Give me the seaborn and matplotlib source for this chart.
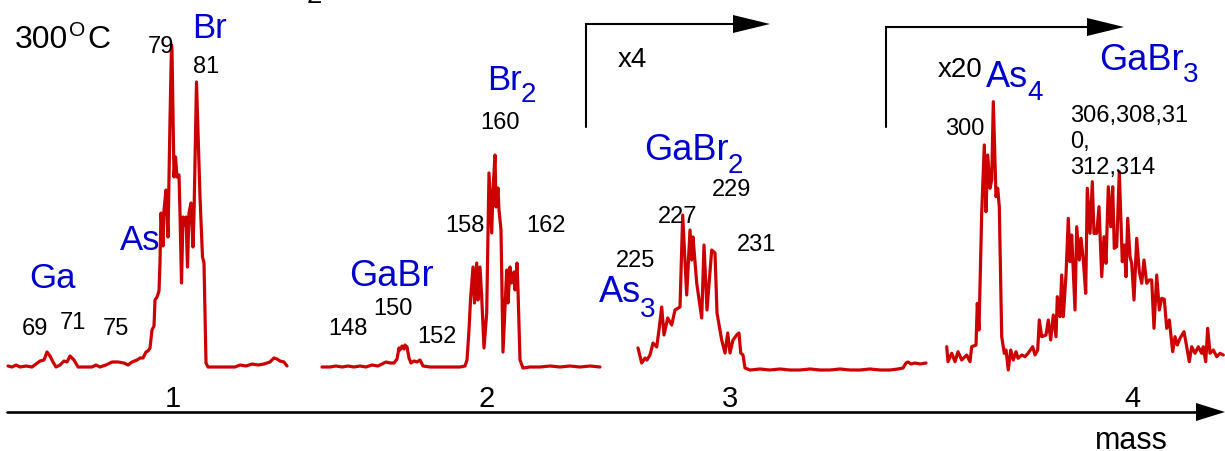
import numpy as np
import pandas as pd
import matplotlib
matplotlib.use("Agg")
import matplotlib.pyplot as plt
import seaborn as sns

# ---------------- data (trace positions along the mass axis, signal level) ----------------
seg1_x = [8, 12, 16, 20, 26, 32, 36, 40, 44, 47, 50, 53, 56, 60, 64, 67, 70, 74, 78, 84, 92, 96, 100, 106,
          112, 118, 124, 128, 132, 137, 140, 143, 146, 148, 150, 152, 154, 155, 157, 159, 160, 161, 163, 164,
          166, 168, 170, 171.5, 172, 174, 175.5, 177, 179, 180, 181.5, 183, 185, 186, 187.5, 189, 191, 193,
          194, 196.5, 200, 202.5, 204, 206, 208, 215, 225, 235, 240, 246, 252, 258, 264, 270, 274, 277, 280,
          284, 287]
seg1_y = [366, 367, 365, 367, 366, 367, 364, 361, 360, 352, 356, 362, 367, 365, 361, 362, 356, 360, 367, 367,
          367, 365, 367, 365, 362, 362, 363, 365, 362, 360, 358, 358, 352, 351, 348, 330, 326, 300, 297, 291,
          262, 213, 246, 210, 190, 237, 120, 45, 50, 177, 157, 177, 175, 213, 283, 217, 225, 217, 267, 213,
          203, 247, 215, 82, 197, 257, 263, 363, 367, 367, 367, 367, 365, 366, 364, 365, 364, 362, 358, 359,
          361, 362, 366]

seg2_x = [322, 330, 336, 342, 348, 354, 360, 366, 372, 378, 382, 386, 390, 394, 397, 399, 400, 402, 404, 405,
          407, 409, 411, 414, 417, 420, 423, 430, 440, 450, 460, 465, 467, 469, 470.5, 473, 474.5, 476.7, 478,
          480, 481.7, 484, 486.7, 489, 491.7, 493, 495, 496, 498, 499, 501, 503, 506.7, 508, 510, 511.7, 514,
          515, 517, 518, 520, 523, 530, 540, 550, 560, 570, 580, 590, 600]
seg2_y = [367, 367, 366, 367, 366, 367, 366, 367, 365, 366, 364, 362, 363, 363, 359, 348, 350, 346, 349, 345,
          347, 358, 363, 361, 362, 360, 366, 367, 367, 367, 367, 366, 360, 330, 300, 267, 303, 263, 300, 267,
          297, 348, 313, 173, 233, 190, 155, 207, 188, 210, 230, 352, 270, 303, 267, 283, 272, 290, 263, 290,
          360, 368, 367, 367, 366, 367, 366, 367, 366, 367]

seg3_x = [638, 641.7, 645, 647, 650, 653, 656.7, 659, 661.7, 664, 667.7, 671.7, 675, 680, 682.7, 686.7, 690,
          691.7, 693, 696.7, 701.7, 704, 707, 711.7, 715, 717, 721.7, 725, 727.7, 730, 733, 736.7, 739, 740.7,
          743, 745, 750, 760, 770, 780, 790, 800, 810, 820, 830, 840, 850, 860, 870, 880, 890, 898, 903, 906,
          908, 911, 915, 920, 926]
seg3_y = [348, 363, 358, 360, 355, 343, 347, 330, 307, 335, 318, 325, 310, 307, 215, 295, 230, 260, 237, 283,
          318, 245, 310, 250, 253, 313, 340, 353, 333, 353, 340, 335, 333, 353, 355, 368, 370, 369, 370, 369,
          370, 370, 369, 370, 370, 369, 370, 370, 369, 370, 370, 369, 368, 363, 362, 364, 363, 364, 363]

seg4_x = [946.7, 948, 951.7, 955, 958, 961.7, 966.7, 970, 971.7, 976, 977.3, 979, 981.7, 984.3, 986, 987.7,
          990, 991.7, 993.3, 996, 997.7, 999.3, 1001.7, 1004.3, 1006, 1008.3, 1010.7, 1013.3, 1016, 1018,
          1021.7, 1025, 1028, 1032.7, 1035, 1037.7, 1039.3, 1041.7, 1046, 1048.3, 1050.7, 1053.3, 1056,
          1057.3, 1060, 1061.7, 1063.3, 1066, 1068.3, 1070, 1071.7, 1075, 1076.7, 1079.3, 1081, 1083.3,
          1085.7, 1087.3, 1090, 1092.3, 1094, 1096.7, 1099, 1101.7, 1104, 1106, 1108.3, 1110.7, 1112.7,
          1114.3, 1116.7, 1119.3, 1122.3, 1124.3, 1126, 1127.7, 1130, 1131.7, 1134, 1136.7, 1139.3, 1141.7,
          1144, 1146.7, 1149.3, 1151.7, 1154, 1156.7, 1159.3, 1161.7, 1164.3, 1166.7, 1169.3, 1172.7, 1175,
          1177.3, 1180, 1184, 1186.7, 1189.3, 1191.7, 1195, 1198.3, 1201.7, 1203.3, 1205.7, 1207.7, 1210,
          1213.3, 1216.7, 1220, 1223.3]
seg4_y = [346.7, 361.7, 353.3, 361.7, 351.7, 360, 355, 361.7, 346.7, 345, 303.3, 330, 213.3, 145, 211.7, 155,
          188.3, 180, 101.7, 196.7, 188.3, 206.7, 336.7, 353.3, 350, 370, 350, 360, 351.7, 358.3, 355, 356.7,
          353.3, 346.7, 355, 350, 320, 336.7, 335, 320, 340, 315, 336.7, 296.7, 316.7, 275, 316.7, 275, 218.3,
          261.7, 235, 310, 226.7, 260, 238.3, 260, 293.3, 188.3, 233.3, 181.7, 233.3, 233.3, 206.7, 276.7,
          236.7, 263.3, 186.7, 226.7, 186.7, 248.3, 246.7, 171.7, 261.7, 245, 276.7, 218.3, 256.7, 263.3,
          300, 238.3, 271.7, 283.3, 260, 283.3, 280, 280, 328.3, 275, 310, 298.3, 299.3, 328.3, 320, 351.7,
          336.7, 345, 338.3, 331.7, 346.7, 361.7, 346.7, 353.3, 346.7, 353.3, 346.7, 361.7, 328.3, 353.3, 350,
          356.7, 353.3, 355]

segment_names = ["1", "2", "3", "4"]
scale_labels = ["x4", "x20"]

frames = []
for name, xs, ys in zip(segment_names, [seg1_x, seg2_x, seg3_x, seg4_x], [seg1_y, seg2_y, seg3_y, seg4_y]):
    frames.append(pd.DataFrame({"mass": xs, "signal": ys, "segment": name}))
df = pd.concat(frames, ignore_index=True)

# ---------------- style ----------------
sns.set_theme(style="white")
plt.rcParams["font.family"] = ["Liberation Sans", "DejaVu Sans"]

RED = "#CC0000"
BLUE = "#0000CC"
BLACK = "#000000"

fig = plt.figure(figsize=(12.25, 4.51), dpi=100)
ax = fig.add_axes([0, 0, 1, 1])

sns.lineplot(data=df, x="mass", y="signal", hue="segment", units="segment",
             palette={n: RED for n in segment_names}, estimator=None, sort=False,
             legend=False, linewidth=2.3, ax=ax)
ax.set_xlim(0, 1225)
ax.set_ylim(451, 0)
ax.axis("off")

renderer = fig.canvas.get_renderer()


def txt(x, y, s, size, color=BLACK, ha="left"):
    return ax.text(x, y, s, fontsize=size, color=color, ha=ha, va="baseline")


def chem(x, y, main, sub, dy, size=26, subsize=20, color=BLUE):
    t = txt(x, y, main, size, color)
    bb = t.get_window_extent(renderer)
    x_end = ax.transData.inverted().transform((bb.x1, bb.y0))[0]
    txt(x_end - 1, y + dy, sub, subsize, color)


# partially visible text at top edge
txt(314, 3, "2", 20, ha="center")

# temperature label
txt(15, 48, "300", 23)
txt(69, 36, "O", 15)
txt(87, 48, "C", 23)

# segment 1 labels
txt(148, 53, "79", 17)
txt(193, 73, "81", 17)
txt(22, 335, "69", 17)
txt(60, 329, "71", 17)
txt(103, 335, "75", 17)
txt(29, 288, "Ga", 25, BLUE)
txt(120, 250, "As", 25, BLUE)
txt(192, 38, "Br", 25, BLUE)

# segment 2 labels
chem(487, 90, "Br", "2", 12, size=25)
txt(480, 129, "160", 17)
txt(445, 232, "158", 17)
txt(526, 232, "162", 17)
txt(349, 286, "GaBr", 26, BLUE)
txt(373, 315, "150", 17)
txt(328, 335, "148", 17)
txt(417, 343, "152", 17)

# segment 3 labels
txt(618, 67, scale_labels[0], 20)
chem(644, 160, "GaBr", "2", 13)
txt(712, 196, "229", 17)
txt(658, 223, "227", 17)
txt(616, 267, "225", 17)
txt(737, 251, "231", 17)
chem(599, 302, "As", "3", 15, size=26)

# segment 4 labels
txt(938, 77, scale_labels[1], 20)
chem(986, 87, "As", "4", 13)
chem(1099, 70, "GaBr", "3", 12)
txt(945, 135, "300", 17)
txt(1070, 122, "306,308,31", 17)
txt(1070, 148, "0,", 17)
txt(1070, 174, "312,314", 17)

# segment numbers and axis title
for name, cx in zip(segment_names, [173, 487, 730, 1132]):
    txt(cx, 407, name, 21, ha="center")
txt(1131, 449, "mass", 22, ha="center")

# scale-change arrows (bracket shaped)
ax.plot([586, 586, 735], [127, 24, 24], color=BLACK, lw=1.5, solid_joinstyle="miter")
ax.fill([733, 770, 733], [15, 24, 33], color=BLACK, lw=0)
ax.plot([886, 886, 1089], [127, 27, 27], color=BLACK, lw=1.5, solid_joinstyle="miter")
ax.fill([1087, 1124, 1087], [18, 27, 36], color=BLACK, lw=0)

# mass axis arrow
ax.plot([7, 1199], [412, 412], color=BLACK, lw=1.9)
ax.fill([1196, 1225, 1196], [403, 412, 421], color=BLACK, lw=0)

fig.savefig("out.png", dpi=100)
